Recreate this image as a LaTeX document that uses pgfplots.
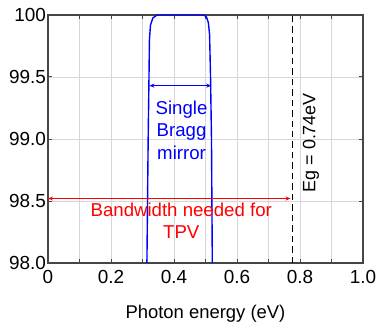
\documentclass[border=0pt]{standalone}
\usepackage{pgfplots}
\pgfplotsset{compat=1.18}
\usepackage{fontspec}
\setmainfont{Liberation Sans}
\usetikzlibrary{arrows.meta,calc}
\definecolor{gridgray}{RGB}{215,215,215}
\definecolor{axgray}{RGB}{70,70,70}
\begin{document}
\begin{tikzpicture}
\begin{axis}[
 scale only axis, width=315bp, height=248bp,
 xmin=0, xmax=1, ymin=98, ymax=100,
 xtick={0,0.2,0.4,0.6,0.8,1.0},
 xticklabels={0,0.2,0.4,0.6,0.8,1.0},
 minor xtick={0.1,0.3,0.5,0.7,0.9},
 ytick={98,98.5,99,99.5,100},
 yticklabels={98.0,98.5,99.0,99.5,100},
 xmajorgrids, xminorgrids, ymajorgrids,
 grid style={gridgray, line width=0.8pt},
 minor grid style={gridgray, line width=0.8pt},
 axis line style={axgray, line width=1.4pt},
 tick style={axgray, line width=1pt},
 major tick length=4bp, minor tick length=4bp,
 tick align=inside,
 tick label style={font=\fontsize{19}{22}\selectfont, black},
 xticklabel style={yshift=-4bp},
 yticklabel style={xshift=1.5bp},
 label style={font=\fontsize{18.5}{22}\selectfont},
 xlabel={Photon energy (eV)},
 xlabel style={yshift=-14bp},
 /pgf/number format/assume math mode=true,
]
\addplot[blue, line width=1.4pt] coordinates {(0.3135,97.5) (0.314,98.0) (0.318,99.0) (0.3206,99.5) (0.322,99.8) (0.3254,99.92) (0.333,99.976) (0.346,100) (0.495,100) (0.503,99.984) (0.509,99.94) (0.513,99.84) (0.516,99.5) (0.519,99.0) (0.5216,98.0) (0.522,97.5)};
\addplot[black, line width=1.2pt, dash pattern=on 6.5pt off 4pt] coordinates {(0.777,98) (0.777,100)};
\addplot[blue, line width=0.9pt, {Stealth[length=5pt,width=4pt]}-{Stealth[length=5pt,width=4pt]}] coordinates {(0.322,99.43) (0.518,99.43)};
\addplot[red, line width=0.9pt, {Stealth[length=5pt,width=4pt]}-{Stealth[length=5pt,width=4pt]}] coordinates {(0.0,98.52) (0.77,98.52)};
\node[blue, align=center, font=\fontsize{18.7}{23}\selectfont] at (axis cs:0.424,99.07) {Single\\Bragg\\mirror};
\node[red, align=center, font=\fontsize{18.7}{21.5}\selectfont] at (axis cs:0.423,98.34) {Bandwidth needed for\\TPV};
\node[black, rotate=90, font=\fontsize{18}{21}\selectfont] at (axis cs:0.835,98.97) {Eg = 0.74eV};
\end{axis}
\pgfresetboundingbox
\path ($(current axis.south west)+(-48bp,-59bp)$) rectangle ($(current axis.north east)+(13bp,15bp)$);
\end{tikzpicture}
\end{document}
